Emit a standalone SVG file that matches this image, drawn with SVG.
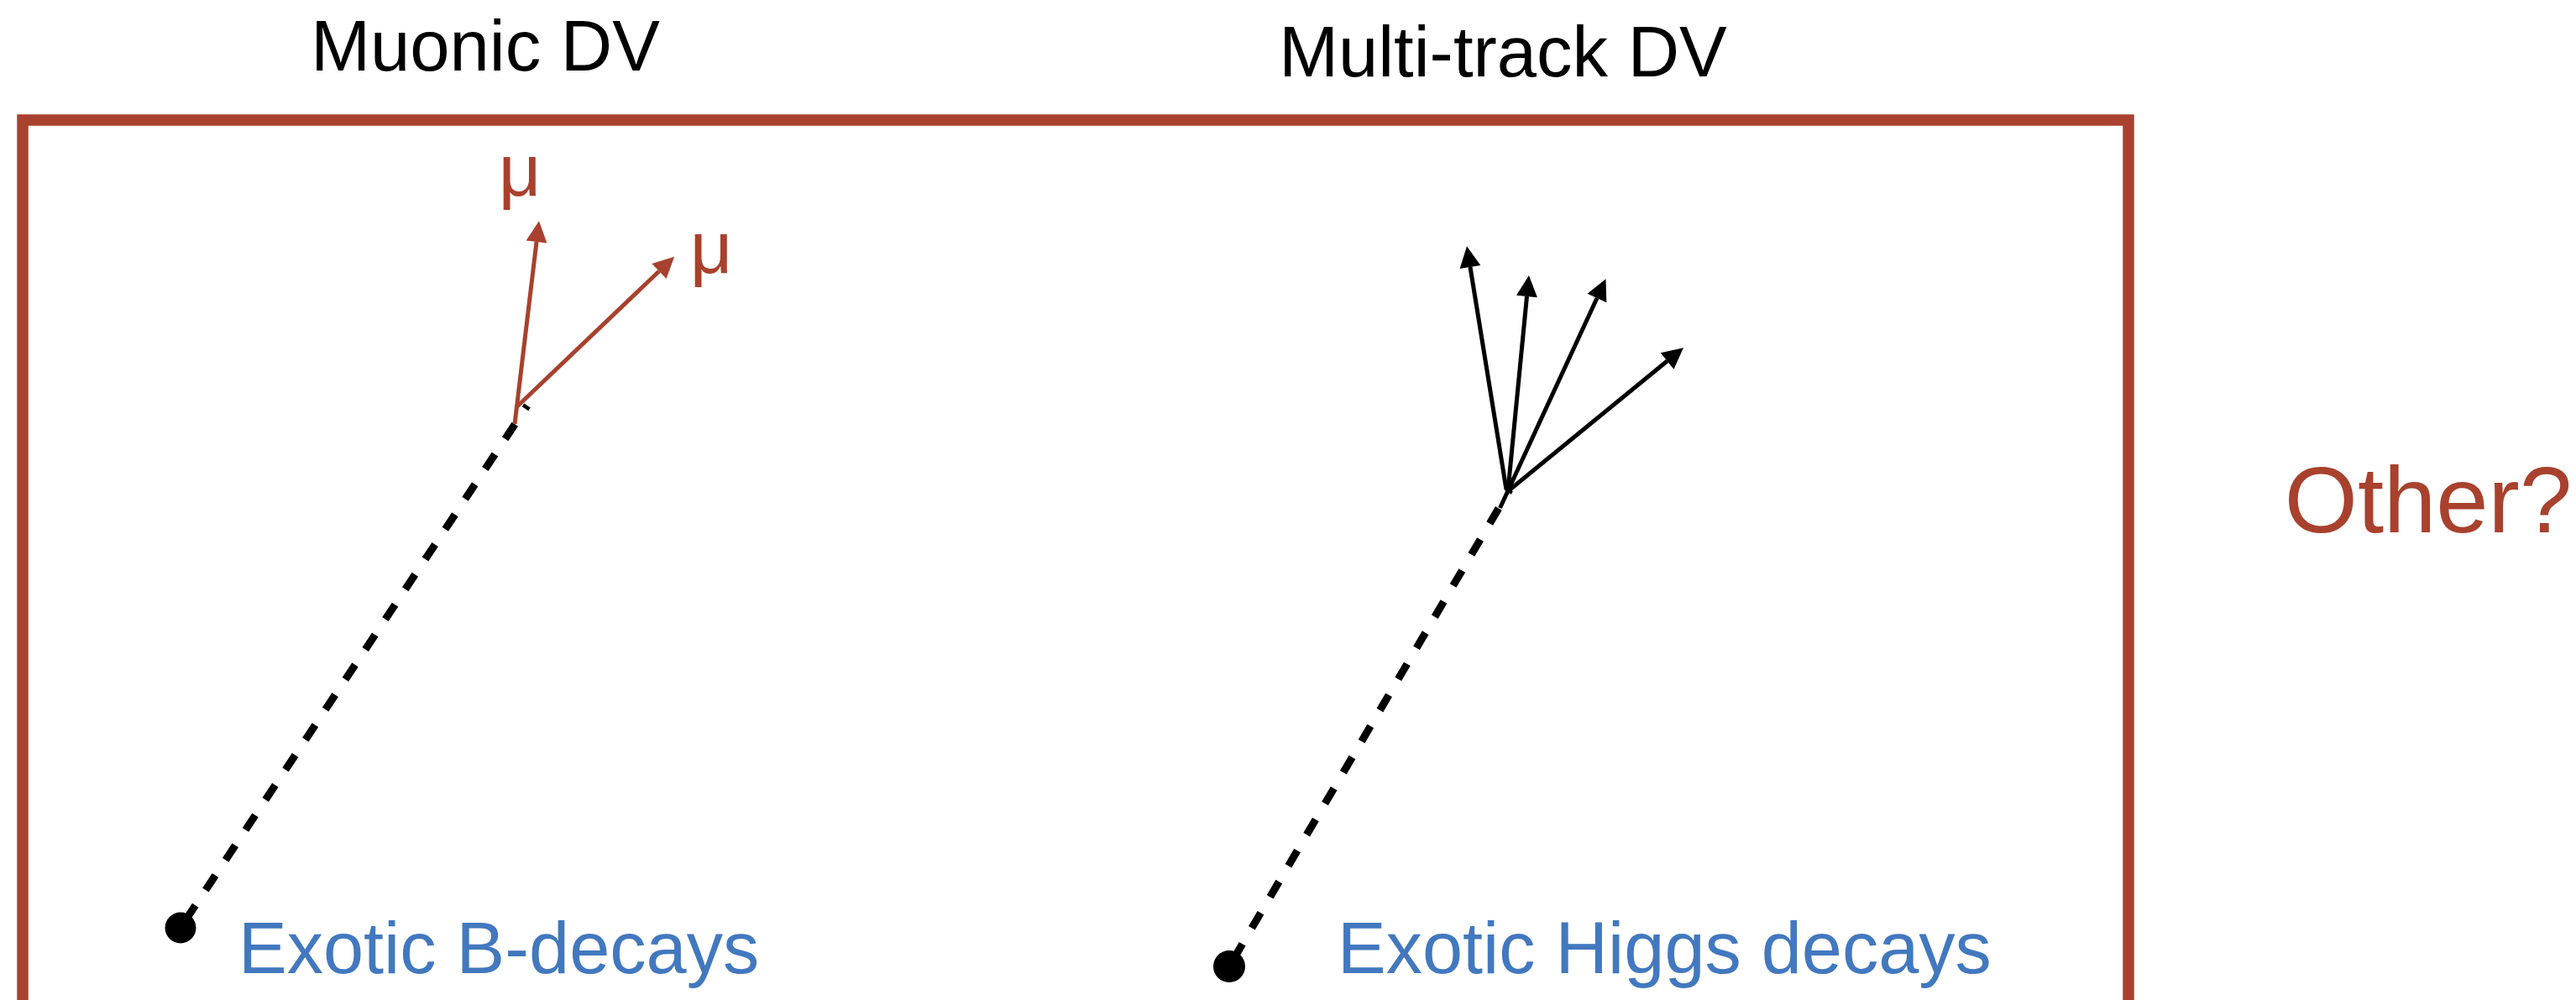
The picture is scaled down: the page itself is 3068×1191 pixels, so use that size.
<svg xmlns="http://www.w3.org/2000/svg" width="3068" height="1191" viewBox="0 0 3068 1191">
  <style>
    .title { font-family: "Liberation Sans", Arial, Helvetica, sans-serif; font-size: 85px; fill: #000000; text-anchor: middle; }
    .source { font-family: "Liberation Sans", Arial, Helvetica, sans-serif; font-size: 86.5px; fill: #4278BF; }
    .mu { font-family: "Liberation Sans", Arial, Helvetica, sans-serif; font-size: 88px; fill: #A8412D; text-anchor: middle; }
    .other { font-family: "Liberation Sans", Arial, Helvetica, sans-serif; font-size: 112px; fill: #A8412D; text-anchor: middle; }
    .frame { fill: none; stroke: #A8412D; stroke-width: 13.5; }
    .flight { fill: none; stroke: #000000; stroke-width: 9; stroke-dasharray: 21 22; }
    .track-mu { stroke: #A8412D; stroke-width: 5; fill: none; marker-end: url(#head-red); }
    .track { stroke: #000000; stroke-width: 5; fill: none; marker-end: url(#head-black); }
    .pv { fill: #000000; }
  </style>
  <defs>
    <!-- arrowheads: reference point at the base, so the shaft stops where the head begins -->
    <marker id="head-red" markerUnits="userSpaceOnUse" markerWidth="26" markerHeight="26" refX="0" refY="12.5" orient="auto" overflow="visible">
      <path d="M0,0 L25,12.5 L0,25 Z" fill="#A8412D"/>
    </marker>
    <marker id="head-black" markerUnits="userSpaceOnUse" markerWidth="26" markerHeight="26" refX="0" refY="12.5" orient="auto" overflow="visible">
      <path d="M0,0 L25,12.5 L0,25 Z" fill="#000000"/>
    </marker>
  </defs>

  <rect width="3068" height="1191" fill="#ffffff"/>

  <!-- selection frame around the two vertex categories (bottom edge runs off the page) -->
  <g id="frame">
    <rect class="frame" x="27" y="143" width="2508" height="1080"/>
  </g>

  <g id="title-muonic">
    <text class="title" x="578" y="84">Muonic DV</text>
  </g>
  <g id="title-multitrack">
    <text class="title" x="1790" y="91">Multi-track DV</text>
  </g>

  <g id="other">
    <text class="other" x="2892" y="634">Other?</text>
  </g>

  <!-- primary vertices -->
  <g id="pv-b">
    <circle class="pv" cx="215" cy="1105" r="18.5"/>
  </g>
  <g id="pv-higgs">
    <circle class="pv" cx="1464" cy="1151" r="19"/>
  </g>

  <g id="label-b">
    <text class="source" x="284" y="1159">Exotic B-decays</text>
  </g>
  <g id="label-higgs">
    <text class="source" x="1593" y="1159">Exotic Higgs decays</text>
  </g>

  <g id="mu-labels">
    <text class="mu" x="619" y="233">μ</text>
    <text class="mu" x="847" y="325">μ</text>
  </g>

  <g id="connectors">
    <!-- long-lived particle flight paths -->
    <path class="flight" stroke-dashoffset="32" d="M215,1105 L628,483"/>
    <path class="flight" stroke-dashoffset="33" d="M1464,1151 L1798,583"/>

    <!-- muon pair from the displaced vertex -->
    <path class="track-mu" d="M613,505 L639,288"/>
    <path class="track-mu" d="M615,485 L785,323"/>

    <!-- charged tracks from the multi-track vertex -->
    <path class="track" d="M1794,583 L1751,318"/>
    <path class="track" d="M1796,584 L1818.5,353"/>
    <path class="track" d="M1786.5,605 L1902,355"/>
    <path class="track" d="M1796,585 L1985.6,430"/>
  </g>
</svg>
